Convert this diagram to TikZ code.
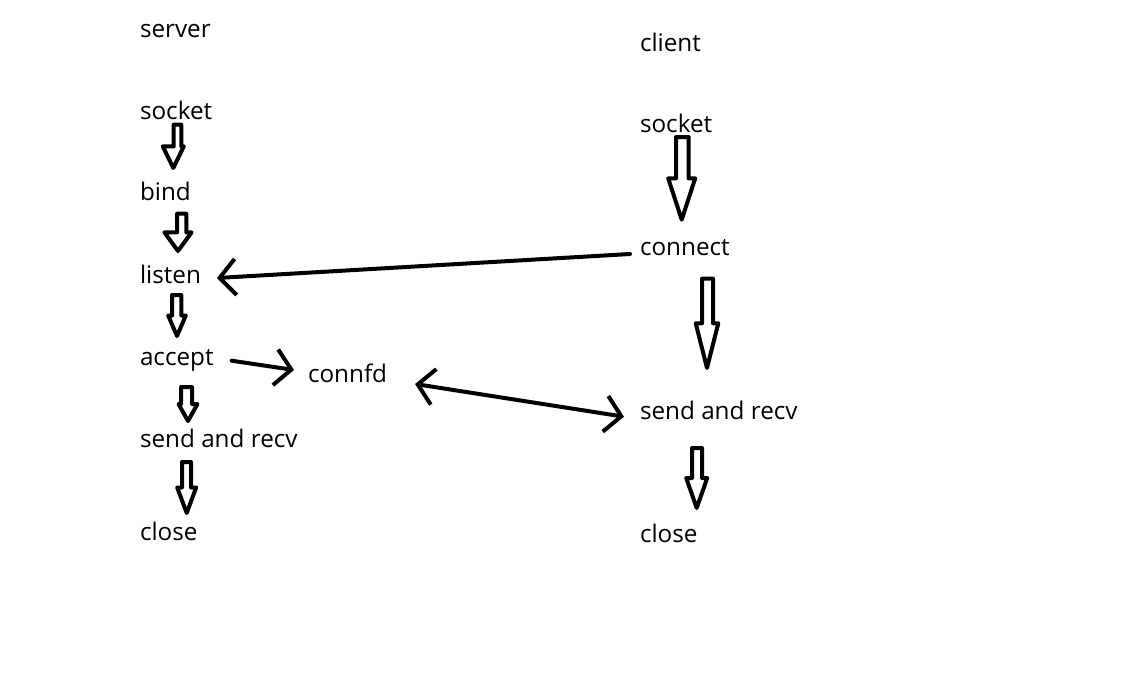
\documentclass[tikz,border=0pt]{standalone}
\usepackage{fontspec}
\setmainfont{Open Sans}
\usetikzlibrary{arrows.meta}
\usetikzlibrary{calc}

\begin{document}
\begin{tikzpicture}[x=0.75pt,y=-0.75pt,
word/.style={anchor=base west,inner sep=0pt,outer sep=0pt,font=\fontsize{18.2}{22}\selectfont},
barb/.tip={Straight Barb[length=12pt,width=27pt]},
link/.style={line width=3pt,line cap=round,line join=round,-barb},
twoway/.style={line width=3pt,line cap=round,line join=round,barb-barb},
fat/.style={line width=3pt,line join=round},
blockarrow/.style 2 args={
  to path={let \p1=(\tikztostart), \p2=(\tikztotarget) in
    ({\x1-#1*0.75pt},\y1) -- ({\x1-#1*0.75pt},{0.5*(\y1+\y2)}) -- ({\x2-#2*0.75pt},{0.5*(\y1+\y2)})
    -- (\x2,\y2) -- ({\x2+#2*0.75pt},{0.5*(\y1+\y2)}) -- ({\x1+#1*0.75pt},{0.5*(\y1+\y2)})
    -- ({\x1+#1*0.75pt},\y1) -- cycle}}]

\useasboundingbox (0,0) rectangle (1121,675);

% server side
\node[word] (srv) at (140,37.5) {server};
\node[word] (sS) at (140,119) {socket};
\node[word] (bind) at (140,200) {bind};
\node[word] (listen) at (140,283) {listen};
\node[word] (accept) at (140,365) {accept};
\node[word] (sendS) at (140,447) {send and recv};
\node[word] (closeS) at (140,540) {close};
\node[word] (connfd) at (308,382) {connfd};

% client side
\node[word] (cli) at (640,51.5) {client};
\node[word] (sC) at (640,132) {socket};
\node[word] (connect) at (640,255) {connect};
\node[word] (sendC) at (640,419) {send and recv};
\node[word] (closeC) at (640,542) {close};

\draw[fat] ([shift={(37.5,5.7)}]sS.base west) to[blockarrow={3.8}{10.5}] ([shift={(33.3,-32)}]bind.base west);
\draw[fat] ([shift={(41.7,13.7)}]bind.base west) to[blockarrow={4.6}{13.6}] ([shift={(38,-32)}]listen.base west);
\draw[fat] ([shift={(36.7,12)}]listen.base west) to[blockarrow={4.6}{8.8}] ([shift={(37,-29)}]accept.base west);
\draw[fat] ([shift={(46.5,22)}]accept.base west) to[blockarrow={5.5}{9.5}] ([shift={(48,-26)}]sendS.base west);
\draw[fat] ([shift={(46.5,15)}]sendS.base west) to[blockarrow={4.5}{9.5}] ([shift={(46.7,-27)}]closeS.base west);

\draw[fat] ([shift={(42.3,5)}]sC.base west) to[blockarrow={6.3}{13.5}] ([shift={(41.7,-35.3)}]connect.base west);
\draw[fat] ([shift={(67.5,23.7)}]connect.base west) to[blockarrow={5.5}{11.3}] ([shift={(67,-51)}]sendC.base west);
\draw[fat] ([shift={(57,29)}]sendC.base west) to[blockarrow={5}{10.5}] ([shift={(56.7,-34)}]closeC.base west);

\draw[link] ([shift={(-10,-1)}]connect.base west) -- ([shift={(16,-5)}]listen.base east);
\draw[link] ([shift={(18,-4.3)}]accept.base east) -- ([shift={(-14,-12)}]connfd.base west);
\draw[twoway] ([shift={(28,2)}]connfd.base east) -- ([shift={(-16,-2.3)}]sendC.base west);

\end{tikzpicture}
\end{document}
